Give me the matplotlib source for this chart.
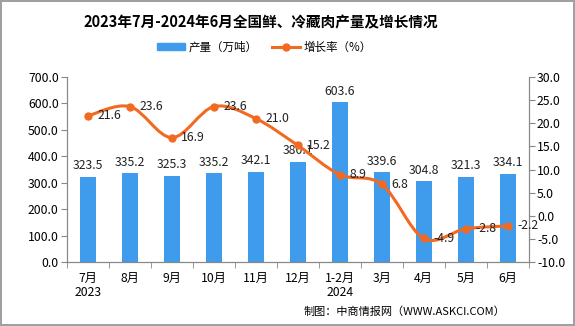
import matplotlib.pyplot as plt
import numpy as np
from matplotlib.path import Path
from matplotlib.patches import PathPatch, Patch
from matplotlib.lines import Line2D

plt.rcParams['font.family'] = ['Noto Sans CJK SC', 'DejaVu Sans']

months = ['7月\n2023', '8月', '9月', '10月', '11月', '12月', '1-2月\n2024', '3月', '4月', '5月', '6月']
output = [323.5, 335.2, 325.3, 335.2, 342.1, 380.1, 603.6, 339.6, 304.8, 321.3, 334.1]
growth = [21.6, 23.6, 16.9, 23.6, 21.0, 15.2, 8.9, 6.8, -4.9, -2.8, -2.2]

bar_color = '#3f9cec'
line_color = '#f26a21'

fig = plt.figure(figsize=(5.75, 3.26), dpi=100)
fig.patch.set_edgecolor('#a0a0a0')
fig.patch.set_linewidth(1.5)
ax = fig.add_axes([0.1165, 0.196, 0.803, 0.568])
ax2 = ax.twinx()

x = np.arange(len(months))
ax.bar(x, output, width=0.38, color=bar_color, zorder=2)
for xi, v in zip(x, output):
    ax.text(xi, v + 18, f'{v:.1f}', ha='center', va='bottom', fontsize=8.8, color='#222222')

ax.set_xlim(-0.5, len(months) - 0.5)
ax.set_ylim(0, 700)
ax.set_yticks(np.arange(0, 701, 100))
ax.set_yticklabels([f'{v:.1f}' for v in np.arange(0, 701, 100)], fontsize=8.8)
ax.set_xticks(x)
ax.set_xticklabels(months, fontsize=8.8, linespacing=1.15)
ax.tick_params(axis='x', length=0, pad=7)
ax.set_xticks(np.arange(-0.5, len(months), 1), minor=True)
ax.tick_params(axis='x', which='minor', length=4, color='#888888')
ax.tick_params(axis='y', length=4, color='#888888', pad=2)

ax2.set_ylim(-10, 30)
ax2.set_yticks(np.arange(-10, 31, 5))
ax2.set_yticklabels([f'{v:.1f}' for v in np.arange(-10, 31, 5)], fontsize=8.8)
ax2.tick_params(axis='y', length=4, color='#888888', pad=2)

for a in (ax, ax2):
    a.spines['top'].set_visible(False)
    for s in ['left', 'right', 'bottom']:
        a.spines[s].set_color('#888888')

# smooth line through the points (Catmull-Rom as cubic Bezier)
pts = np.column_stack([x, growth]).astype(float)
verts = [tuple(pts[0])]
codes = [Path.MOVETO]
for i in range(len(pts) - 1):
    p0 = pts[i - 1] if i > 0 else pts[i]
    p1 = pts[i]
    p2 = pts[i + 1]
    p3 = pts[i + 2] if i + 2 < len(pts) else pts[i + 1]
    c1 = p1 + (p2 - p0) / 6
    c2 = p2 - (p3 - p1) / 6
    verts += [tuple(c1), tuple(c2), tuple(p2)]
    codes += [Path.CURVE4] * 3
ax2.add_patch(PathPatch(Path(verts, codes), facecolor='none', edgecolor=line_color, lw=2.2, zorder=3))
ax2.plot(x, growth, 'o', color=line_color, ms=5, zorder=4)
for xi, v in zip(x, growth):
    ax2.text(xi + 0.22, v, f'{v:.1f}', ha='left', va='center', fontsize=8.8, color='#222222', zorder=5)

fig.text(0.454, 0.933, '2023年7月-2024年6月全国鲜、冷藏肉产量及增长情况', ha='center', va='center',
         fontsize=10.5, fontweight='bold')

# legend
handles = [Patch(color=bar_color, label='产量（万吨）'),
           Line2D([], [], color=line_color, lw=2.2, marker='o', ms=5, label='增长率（%）')]
fig.legend(handles=handles, loc='center', bbox_to_anchor=(0.46, 0.856), ncol=2, frameon=False,
           fontsize=8.3, handlelength=2.4, handleheight=0.5, handletextpad=0.3, columnspacing=1.3)

fig.text(0.878, 0.043, '制图：中商情报网（WWW.ASKCI.COM）', ha='right', va='center', fontsize=8)

fig.savefig('out.png', dpi=100, edgecolor=fig.get_edgecolor())
